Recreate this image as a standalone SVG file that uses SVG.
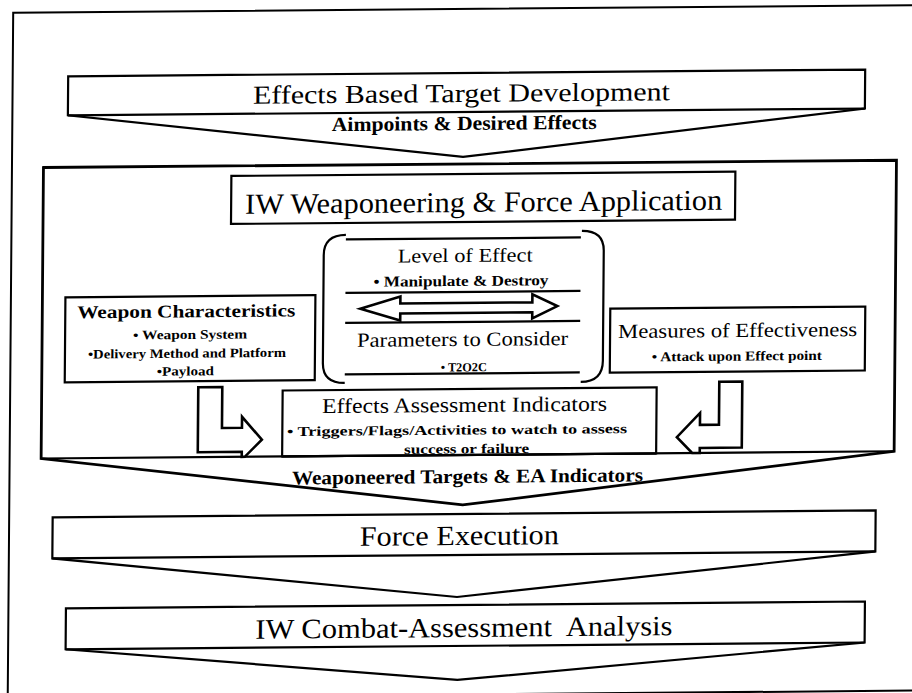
<svg xmlns="http://www.w3.org/2000/svg" width="912" height="693" viewBox="0 0 912 693">
<style>
.frame{fill:none;stroke:#000;stroke-width:2}
.box{fill:#fff;stroke:#000;stroke-width:2.2;stroke-linejoin:miter}
.heavy{fill:#fff;stroke:#000;stroke-width:2.8;stroke-linejoin:miter}
.ln{fill:none;stroke:#000;stroke-width:2.2}
.arr{fill:#fff;stroke:#000;stroke-width:2.6;stroke-linejoin:miter}
text{fill:#000}
.b{font-weight:bold}
</style>
<rect width="912" height="693" fill="#fff"/>
<!-- slight page skew -->
<g transform="matrix(1,-0.0085,-0.008,1,2.77,3.88)" font-family="'Liberation Serif', 'DejaVu Serif', serif">
  <rect class="frame" x="10.5" y="9" width="925" height="685.5"/>

  <g id="target-development">
    <path class="box" d="M66,73 H863 V112 L461.5,157 L66,112 Z"/>
    <line class="ln" x1="66" y1="112" x2="863" y2="112"/>
    <text x="251" y="102" font-size="26" textLength="417" lengthAdjust="spacingAndGlyphs">Effects Based Target Development</text>
    <text class="b" x="330" y="130" font-size="20" textLength="265" lengthAdjust="spacingAndGlyphs">Aimpoints &amp; Desired Effects</text>
  </g>

  <g id="weaponeering">
    <path class="heavy" d="M42,164 H895 V455 L464,505 L42,455 Z"/>
    <line class="ln" x1="42" y1="455" x2="895" y2="455" stroke-width="2.8"/>
    <text class="b" x="293" y="483" font-size="19.5" textLength="351" lengthAdjust="spacingAndGlyphs">Weaponeered Targets &amp; EA Indicators</text>
  </g>

  <g id="weaponeering-title">
    <rect class="box" x="230" y="174" width="504" height="48"/>
    <text x="244" y="212" font-size="29" textLength="477" lengthAdjust="spacingAndGlyphs">IW Weaponeering &amp; Force Application</text>
  </g>

  <g id="effect-level">
    <path class="ln" d="M345,234 Q323,234 323,254 V362 Q323,382 345,382"/>
    <path class="ln" d="M581,232 Q603,232 603,252 V362 Q603,383 581,383"/>
    <line class="ln" x1="345" y1="238.5" x2="580" y2="238.5"/>
    <line class="ln" x1="345" y1="292" x2="580" y2="292"/>
    <line class="ln" x1="345" y1="322" x2="580" y2="322"/>
    <line class="ln" x1="345" y1="373.5" x2="580" y2="373.5"/>
    <text x="397" y="262" font-size="19.5" textLength="135" lengthAdjust="spacingAndGlyphs">Level of Effect</text>
    <text class="b" x="373" y="286" font-size="15" textLength="175" lengthAdjust="spacingAndGlyphs">• Manipulate &amp; Destroy</text>
    <text x="357" y="346" font-size="20" textLength="211" lengthAdjust="spacingAndGlyphs">Parameters to Consider</text>
    <text class="b" x="441" y="371.5" font-size="12.5" textLength="46" lengthAdjust="spacingAndGlyphs">• T2O2C</text>
  </g>

  <g id="weapon-characteristics">
    <rect class="box" x="65" y="294" width="250" height="85"/>
    <text class="b" x="77" y="315" font-size="18" textLength="218" lengthAdjust="spacingAndGlyphs">Weapon Characteristics</text>
    <text class="b" x="133" y="336.7" font-size="13" textLength="114" lengthAdjust="spacingAndGlyphs">• Weapon System</text>
    <text class="b" x="88" y="355.4" font-size="13" textLength="198" lengthAdjust="spacingAndGlyphs">•Delivery Method and Platform</text>
    <text class="b" x="157" y="373.2" font-size="13" textLength="57" lengthAdjust="spacingAndGlyphs">•Payload</text>
  </g>

  <g id="measures-of-effectiveness">
    <rect class="box" x="610" y="310" width="255" height="64"/>
    <text x="618" y="339.4" font-size="20" textLength="239" lengthAdjust="spacingAndGlyphs">Measures of Effectiveness</text>
    <text class="b" x="652" y="363" font-size="13.5" textLength="170" lengthAdjust="spacingAndGlyphs">• Attack upon Effect point</text>
  </g>

  <g id="assessment-indicators">
    <rect class="box" x="283" y="389" width="374" height="66"/>
    <text x="322.5" y="412" font-size="21" textLength="285" lengthAdjust="spacingAndGlyphs">Effects Assessment Indicators</text>
    <text class="b" x="287.7" y="434.6" font-size="13.5" textLength="340" lengthAdjust="spacingAndGlyphs">• Triggers/Flags/Activities to watch to assess</text>
    <text class="b" x="405" y="453.5" font-size="13.5" textLength="125" lengthAdjust="spacingAndGlyphs">success or failure</text>
    <line class="ln" x1="283" y1="455" x2="657" y2="455" stroke-width="2.8"/>
  </g>

  <g id="connectors">
    <path class="arr" d="M360,308 L400,296 V303 H532 V295 L557,307 L532,319 V313 H400 V320 Z"/>
    <path class="arr" d="M198.6,385 H222.6 V426 H242.6 V415 L262.6,438 L245.6,455 H242.6 V450 H198.6 Z"/>
    <path class="arr" d="M742.6,384 V450 H700.6 V455 H693 L677.6,439 L700.6,415 V427 H719.6 V384 Z"/>
  </g>

  <g id="force-execution">
    <path class="box" d="M54,514 H877 V555 L459,597 L54,555 Z"/>
    <line class="ln" x1="54" y1="555" x2="877" y2="555"/>
    <text x="361.4" y="545" font-size="28" textLength="199" lengthAdjust="spacingAndGlyphs">Force Execution</text>
  </g>

  <g id="combat-assessment">
    <path class="box" d="M68,605 H867 V646 L460,680 L68,646 Z"/>
    <line class="ln" x1="68" y1="646" x2="867" y2="646"/>
    <text x="257.7" y="637" font-size="28" textLength="417" lengthAdjust="spacingAndGlyphs" xml:space="preserve" style="white-space:pre">IW Combat-Assessment  Analysis</text>
  </g>
</g>
</svg>
